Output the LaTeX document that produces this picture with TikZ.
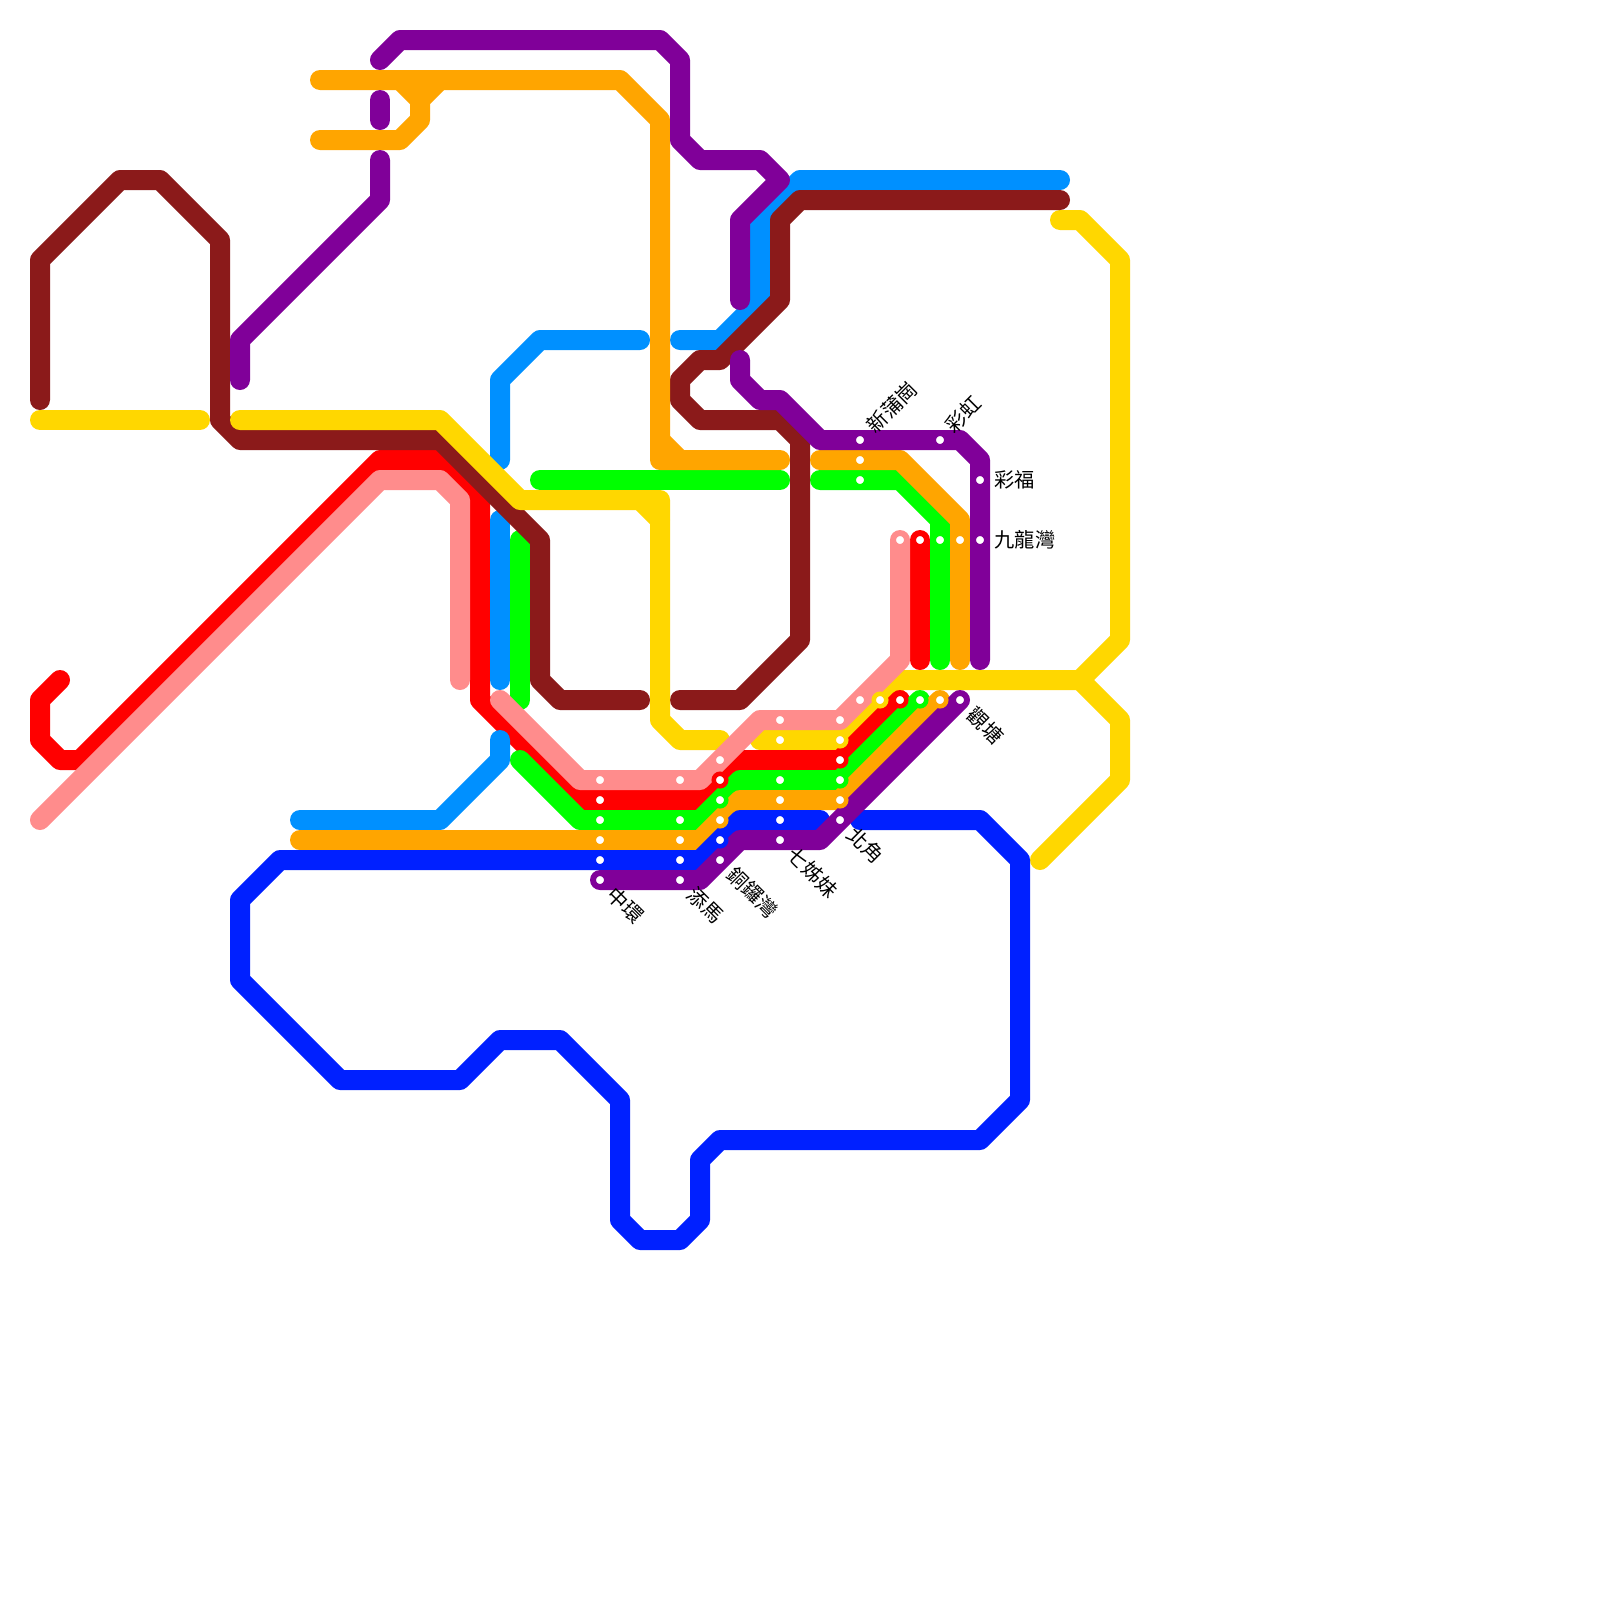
\documentclass[tikz,border=0pt]{standalone}
\usepackage{fontspec}
\newfontfamily\cjkfont{Noto Sans CJK TC}
\definecolor{cbrown}{HTML}{8B1A1A}
\definecolor{cyellow}{HTML}{FFD700}
\definecolor{cred}{HTML}{FF0000}
\definecolor{cpink}{HTML}{FF8C8C}
\definecolor{cgreen}{HTML}{00FF00}
\definecolor{corange}{HTML}{FFA500}
\definecolor{cpurple}{HTML}{800099}
\definecolor{clblue}{HTML}{0090FF}
\definecolor{cdblue}{HTML}{0020FF}
\tikzset{
  metro/.style={line width=0.5cm,line cap=round,line join=round,draw=#1},
  stn/.style={circle,inner sep=0pt,outer sep=0pt,minimum size=0.3125cm,line width=0.1125cm,draw=#1,fill=white},
  lbl/.style={font=\cjkfont\fontsize{14.4}{16}\selectfont,text=black,inner sep=0pt,anchor=west}
}
\begin{document}
\begin{tikzpicture}[x=0.5cm,y=-0.5cm]
\useasboundingbox (0,0) rectangle (80,80);
\fill[white] (0,0) rectangle (80,80);
% yellow, lower piece
\draw[metro=cyellow] (38,37) -- (42,37) -- (45,34) -- (54,34) -- (56,32) -- (56,13) -- (54,11) -- (53,11);
\draw[metro=cyellow] (54,34) -- (56,36) -- (56,39) -- (52,43);
\draw[metro=cyellow] (2,21) -- (10,21);
% red
\draw[metro=cred] (3,34) -- (2,35) -- (2,37) -- (3,38) -- (4,38) -- (19,23) -- (22,23) -- (24,25) -- (24,35) -- (29,40) -- (35,40) -- (37,38) -- (42,38) -- (45,35);
\draw[metro=cred] (46,27) -- (46,33);
% green
\draw[metro=cgreen] (27,24) -- (39,24);
\draw[metro=cgreen] (41,24) -- (45,24) -- (47,26) -- (47,33);
\draw[metro=cgreen] (26,27) -- (26,35);
\draw[metro=cgreen] (26,38) -- (29,41) -- (35,41) -- (37,39) -- (42,39) -- (46,35);
% light blue
\draw[metro=clblue] (25,23) -- (25,19) -- (27,17) -- (32,17);
\draw[metro=clblue] (34,17) -- (36,17) -- (38,15) -- (38,11) -- (40,9) -- (53,9);
\draw[metro=clblue] (25,26) -- (25,34);
\draw[metro=clblue] (25,37) -- (25,38) -- (22,41) -- (15,41);
% brown
\draw[metro=cbrown] (2,20) -- (2,13) -- (6,9) -- (8,9) -- (11,12) -- (11,21) -- (12,22) -- (22,22) -- (27,27) -- (27,34) -- (28,35) -- (32,35);
\draw[metro=cbrown] (34,35) -- (37,35) -- (40,32) -- (40,22) -- (39,21) -- (35,21) -- (34,20) -- (34,19) -- (35,18) -- (36,18) -- (39,15) -- (39,11) -- (40,10) -- (53,10);
% yellow, upper piece
\draw[metro=cyellow] (12,21) -- (22,21) -- (26,25) -- (33,25) -- (33,36) -- (34,37) -- (36,37);
\draw[metro=cyellow] (32,25) -- (33,26);
% orange
\draw[metro=corange] (16,4) -- (31,4) -- (33,6) -- (33,23) -- (39,23);
\draw[metro=corange] (33,22) -- (34,23);
\draw[metro=corange] (16,7) -- (20,7) -- (21,6) -- (21,5) -- (22,4);
\draw[metro=corange] (20,4) -- (21,5);
\draw[metro=corange] (41,23) -- (45,23) -- (48,26) -- (48,33);
\draw[metro=corange] (15,42) -- (35,42) -- (37,40) -- (42,40) -- (47,35);
% dark blue
\draw[metro=cdblue] (41,41) -- (37,41) -- (35,43) -- (14,43) -- (12,45) -- (12,49) -- (17,54) -- (23,54) -- (25,52) -- (28,52) -- (31,55) -- (31,61) -- (32,62) -- (34,62) -- (35,61) -- (35,58) -- (36,57) -- (49,57) -- (51,55) -- (51,43) -- (49,41) -- (43,41);
% pink
\draw[metro=cpink] (2,41) -- (19,24) -- (22,24) -- (23,25) -- (23,34);
\draw[metro=cpink] (25,35) -- (29,39) -- (35,39) -- (38,36) -- (42,36) -- (45,33) -- (45,27);
% purple
\draw[metro=cpurple] (19,3) -- (20,2) -- (33,2) -- (34,3) -- (34,7) -- (35,8) -- (38,8) -- (39,9) -- (37,11) -- (37,15);
\draw[metro=cpurple] (19,5) -- (19,6);
\draw[metro=cpurple] (19,8) -- (19,10) -- (12,17) -- (12,19);
\draw[metro=cpurple] (37,18) -- (37,19) -- (38,20) -- (39,20) -- (41,22) -- (48,22) -- (49,23) -- (49,33);
\draw[metro=cpurple] (30,44) -- (35,44) -- (37,42) -- (41,42) -- (48,35);
% stations
\foreach \cx/\cy/\cc in {
 30/39/cpink,30/40/cred,30/41/cgreen,30/42/corange,30/43/cdblue,30/44/cpurple,
 34/39/cpink,34/41/cgreen,34/42/corange,34/43/cdblue,34/44/cpurple,
 36/38/cpink,36/39/cred,36/40/cgreen,36/41/corange,36/42/cdblue,36/43/cpurple,
 39/36/cpink,39/37/cyellow,39/39/cgreen,39/40/corange,39/41/cdblue,39/42/cpurple,
 42/36/cpink,42/37/cyellow,42/38/cred,42/39/cgreen,42/40/corange,42/41/cpurple,
 43/35/cpink,44/35/cyellow,45/35/cred,46/35/cgreen,47/35/corange,48/35/cpurple,
 43/22/cpurple,43/23/corange,43/24/cgreen,47/22/cpurple,49/24/cpurple,
 45/27/cpink,46/27/cred,47/27/cgreen,48/27/corange,49/27/cpurple}
 \node[stn=\cc] (s\cx-\cy) at (\cx,\cy) {};
% labels
\node[lbl,rotate=-45] (zhonghuan) at (30.55,44.55) {中環};
\node[lbl,rotate=-45] (tamar) at (34.55,44.55) {添馬};
\node[lbl,rotate=-45] (tongluo) at (36.55,43.55) {銅鑼灣};
\node[lbl,rotate=-45] (qizimei) at (39.55,42.55) {七姊妹};
\node[lbl,rotate=-45] (beijiao) at (42.55,41.55) {北角};
\node[lbl,rotate=-45] (guantang) at (48.55,35.55) {觀塘};
\node[lbl,rotate=45] (xinpu) at (43.5,21.45) {新蒲崗};
\node[lbl,rotate=45] (caihong) at (47.45,21.45) {彩虹};
\node[lbl] (caifu) at (49.72,24) {彩福};
\node[lbl] (jiulong) at (49.72,27) {九龍灣};
\end{tikzpicture}
\end{document}
